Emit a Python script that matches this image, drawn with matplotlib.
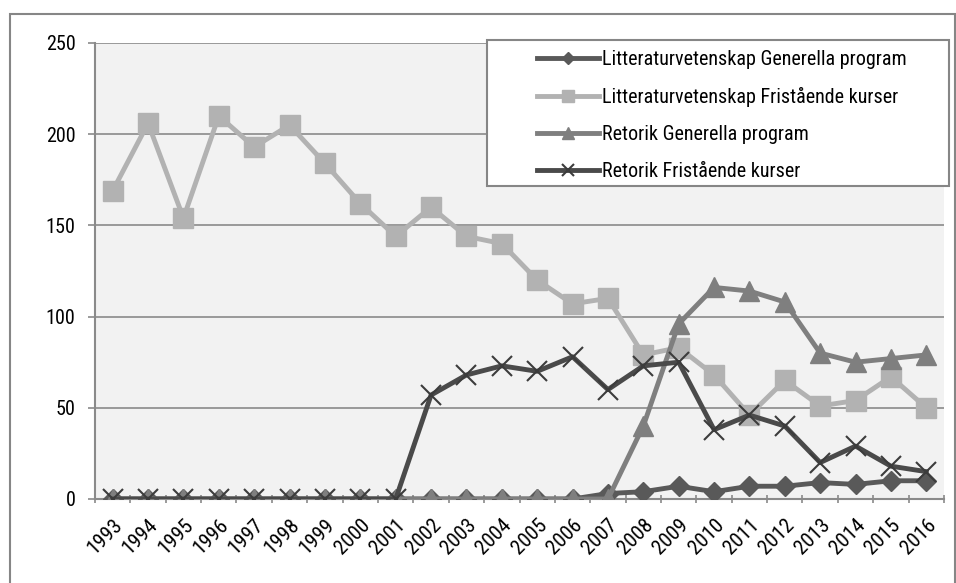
import numpy as np
import matplotlib
matplotlib.use('Agg')
import matplotlib.pyplot as plt
from matplotlib import rcParams
from matplotlib.patches import Rectangle

# narrow sans, first installed one wins per glyph
rcParams['font.family'] = ['Liberation Sans Narrow', 'Arial Narrow', 'Roboto Condensed',
                           'Archivo Narrow', 'Liberation Sans', 'DejaVu Sans']

years = [str(y) for y in range(1993, 2017)]

litt_gen = [0, 0, 0, 0, 0, 0, 0, 0, 0, 0, 0, 0, 0, 0, 3, 4, 7, 4, 7, 7, 9, 8, 10, 10]
litt_fri = [169, 206, 154, 210, 193, 205, 184, 162, 144, 160, 144, 140, 120, 107, 110,
            79, 83, 68, 46, 65, 51, 54, 67, 50]
ret_gen = [0, 0, 0, 0, 0, 0, 0, 0, 0, 0, 0, 0, 0, 0, 0, 40, 96, 116, 114, 108, 80, 75, 77, 79]
ret_fri = [0, 0, 0, 0, 0, 0, 0, 0, 0, 57, 68, 73, 70, 78, 60, 73, 75, 38, 46, 40, 20, 29, 18, 15]

series_labels = ['Litteraturvetenskap Generella program',
                 'Litteraturvetenskap Fristående kurser',
                 'Retorik Generella program',
                 'Retorik Fristående kurser']

W, H = 956, 583
fig = plt.figure(figsize=(W / 100, H / 100), dpi=100)
ax = fig.add_axes([95 / W, 1 - 499 / H, (944 - 95) / W, (499 - 43) / H])
ax.set_facecolor('#f2f2f2')

x = np.arange(len(years))
grid_col = '#8a8a8a'

ax.plot(x, litt_gen, color='#595959', lw=3.5, marker='D', ms=10, label=series_labels[0], zorder=3)
ax.plot(x, litt_fri, color='#b2b2b2', lw=3.5, marker='s', ms=14, label=series_labels[1], zorder=4)
ax.plot(x, ret_gen, color='#7f7f7f', lw=3.5, marker='^', ms=14, label=series_labels[2], zorder=5)
ax.plot(x, ret_fri, color='#4a4a4a', lw=3.5, marker='x', ms=14, mew=1.5, mec='#3c3c3c',
        label=series_labels[3], zorder=6)

ax.set_xlim(-0.5, len(years) - 0.5)
ax.set_ylim(0, 250)
ax.set_yticks([0, 50, 100, 150, 200, 250])
ax.yaxis.grid(True, color=grid_col, lw=1.2)
ax.set_axisbelow(True)

ax.set_xticks(x)
ax.set_xticklabels(years, rotation=45, ha='right', rotation_mode='anchor', fontsize=15)
ax.set_xticks(np.arange(len(years) + 1) - 0.5, minor=True)
ax.tick_params(axis='x', which='major', length=0, pad=12)
ax.tick_params(axis='x', which='minor', length=6, width=1.2, color=grid_col, direction='inout')
ax.tick_params(axis='y', which='major', length=5, width=1.2, color=grid_col, labelsize=14.5, pad=9)

for s in ['top', 'right']:
    ax.spines[s].set_visible(False)
for s in ['left', 'bottom']:
    ax.spines[s].set_color(grid_col)
    ax.spines[s].set_linewidth(1.5)

# legend frame drawn separately so the box matches
fig.patches.append(Rectangle((487 / W, 1 - 186 / H), (949 - 487) / W, (186 - 40) / H,
                             transform=fig.transFigure, facecolor='white',
                             edgecolor='#868686', lw=1.5, zorder=10))
leg = fig.legend(loc='upper left', bbox_to_anchor=(537 / W, 1 - 50 / H), frameon=False,
                 fontsize=14.5, borderpad=0, borderaxespad=0, handlelength=3.1,
                 handletextpad=0.15, labelspacing=0.9, markerscale=0.6)
leg.set_zorder(11)

# outer chart border
fig.patches.append(Rectangle((10 / W, -0.02), (955 - 10) / W, 1.02 - 14 / H,
                             transform=fig.transFigure, fill=False,
                             edgecolor='#868686', lw=1.5))

fig.savefig('out.png', dpi=100)
